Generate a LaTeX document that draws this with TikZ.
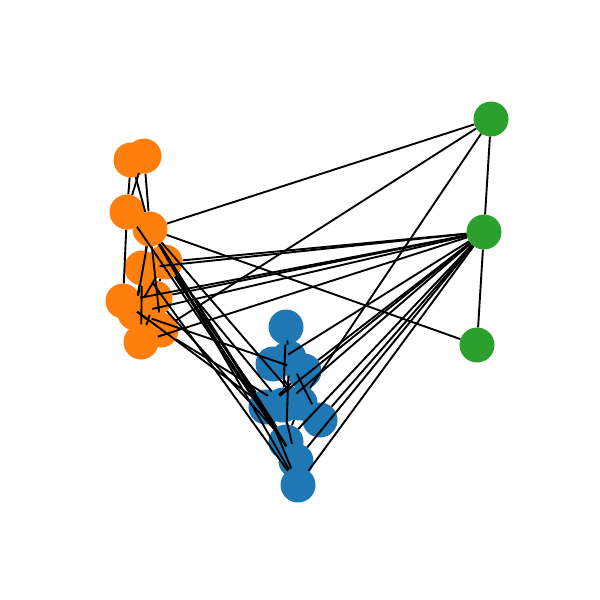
\documentclass[tikz,border=0pt]{standalone}
\usetikzlibrary{positioning}
\definecolor{tabblue}{RGB}{31,119,180}
\definecolor{taborange}{RGB}{255,127,14}
\definecolor{tabgreen}{RGB}{44,160,44}

\begin{document}
\begin{tikzpicture}[x=1pt, y=-1pt,
  vtx/.style={circle, draw=none, minimum size=35pt, inner sep=0pt},
  ovtx/.style={vtx, fill=taborange},
  bvtx/.style={vtx, fill=tabblue},
  gvtx/.style={vtx, fill=tabgreen},
  link/.style={black, line width=1.9pt},
]
\useasboundingbox (0,0) rectangle (600,600);
% orange group
\node[ovtx] (o1) at (131,160) {};
\node[ovtx] (o2) at (144,156) {};
\node[ovtx] (o3) at (127,212) {};
\node[ovtx] (o5) at (165,262) {};
\node[ovtx] (o6) at (142,268) {};
\node[ovtx] (o4) at (150,229) {};
\node[ovtx] (o7) at (123,301) {};
\node[ovtx] (o8) at (155,298) {};
\node[ovtx] (o9) at (135,313) {};
\node[ovtx] (o10) at (161,330) {};
\node[ovtx] (o11) at (141,342) {};
% blue group
\node[bvtx] (b1) at (286,327) {};
\node[bvtx] (b2) at (273,364) {};
\node[bvtx] (b3) at (289,358) {};
\node[bvtx] (b4) at (304,371) {};
\node[bvtx] (b5) at (266,407) {};
\node[bvtx] (b6) at (283,405) {};
\node[bvtx] (b7) at (300,403) {};
\node[bvtx] (b8) at (320,420) {};
\node[bvtx] (b9) at (286,442) {};
\node[bvtx] (b10) at (296,461) {};
\node[bvtx] (b11) at (298,485) {};
% green group
\node[gvtx] (g1) at (491,119) {};
\node[gvtx] (g2) at (484,232) {};
\node[gvtx] (g3) at (477,345) {};
% edges
\foreach \a/\b in {o1/o3, o1/o4, o2/o3, o2/o4, o3/o7, o4/o6, o4/o9, o4/o10,
    o5/o9, o6/o11, o7/o10, o8/o11, o6/o9, o5/o8,
    o4/g1, o10/g1, o5/g2, o6/g2, o7/g2, o8/g2, o9/g2, o11/g2, o4/g3,
    o4/b9, o4/b10, o4/b11, o4/b7, o5/b10, o5/b5, o6/b11, o8/b9, o10/b6,
    o7/b5, o3/b10, o9/b4, o5/b6,
    g1/b7, g2/b2, g2/b4, g2/b5, g2/b6, g2/b8, g2/b9, g2/b10, g2/b11,
    b1/b6, b1/b3, b2/b7, b3/b9, b4/b5, b6/b10, b7/b9, b5/b11, b3/b8,
    g1/g2, g2/g3}
  \draw[link] (\a) -- (\b);
\end{tikzpicture}
\end{document}
